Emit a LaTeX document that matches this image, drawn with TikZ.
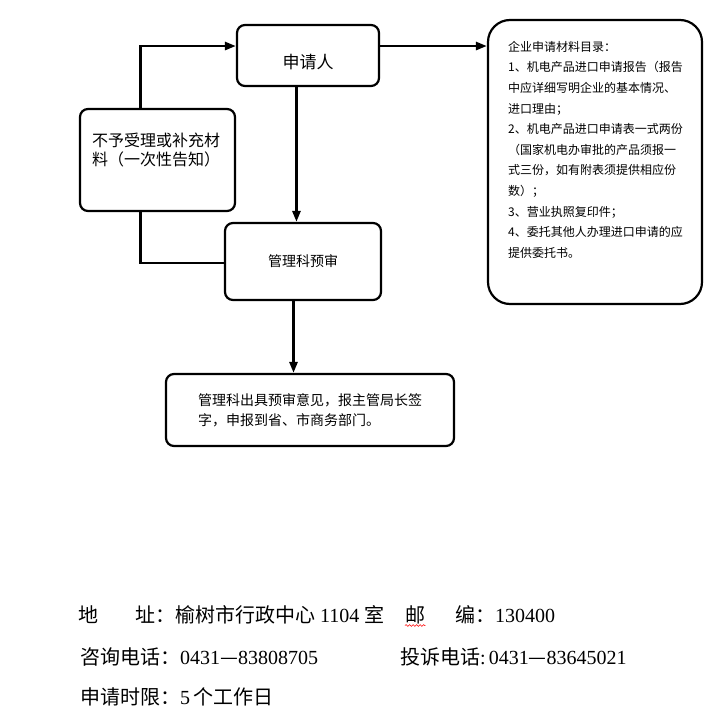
\documentclass[tikz,border=0pt]{standalone}
\usepackage{fontspec}
\setmainfont{Liberation Serif}
\newfontfamily\cjk{Noto Sans CJK SC}
\usetikzlibrary{arrows.meta,calc,positioning,decorations.pathmorphing}

\begin{document}
\begin{tikzpicture}[x=1pt, y=-1pt,
  >={Triangle[length=11pt, width=8pt]},
  every node/.style={inner sep=0pt},
  box/.style={draw, line width=2.2pt, rounded corners=8pt, fill=white},
  flow/.style={->, line width=2.6pt},
  link/.style={line width=2.6pt},
  foot/.style={anchor=base west, font=\fontsize{20}{24}\selectfont},
]
\useasboundingbox (0,0) rectangle (722,725);

% flow chart boxes
\node[box, minimum width=142pt, minimum height=61pt, text height=27pt, text depth=2pt,
      font={\cjk\fontsize{17}{20}\selectfont}] (applicant) at (308,55.5) {申请人};
\node[box, minimum width=155pt, minimum height=102pt] (reject) at (157.5,160) {};
\node[align=left, font={\cjk\fontsize{16}{19}\selectfont}] (rejecttxt) at (156,150)
      {不予受理或补充材\\料（一次性告知）};
\node[box, minimum width=156pt, minimum height=77pt,
      font={\cjk\fontsize{14}{17}\selectfont}] (review) at (303,261.5) {管理科预审};
\node[box, minimum width=288pt, minimum height=72pt, align=left,
      font={\cjk\fontsize{14}{20}\selectfont}] (opinion) at (310,410)
      {管理科出具预审意见，报主管局长签\\字，申报到省、市商务部门。};

% list of documents
\node[box, rounded corners=22pt, minimum width=214pt, minimum height=284pt] (docs) at (595,162) {};
\node[anchor=north west, align=left, font={\cjk\fontsize{12}{20.6}\selectfont}] (docstxt) at (508,41)
      {企业申请材料目录：\\1、机电产品进口申请报告（报告\\中应详细写明企业的基本情况、\\进口理由；\\%
       2、机电产品进口申请表一式两份\\（国家机电办审批的产品须报一\\式三份，如有附表须提供相应份\\数）；\\%
       3、营业执照复印件；\\4、委托其他人办理进口申请的应\\提供委托书。};

% connectors
\coordinate (a1) at ($(applicant.north west)!0.35!(applicant.south west)$);
\draw[flow] ($(reject.north west)!0.39!(reject.north east)$) |- (a1);
\coordinate (a2) at ($(applicant.north east)!0.35!(applicant.south east)$);
\draw[flow] (a2) -- (a2 -| docs.west);
\coordinate (a3) at ($(applicant.south west)!0.42!(applicant.south east)$);
\draw[flow] (a3) -- (a3 |- review.north);
\coordinate (r1) at ($(review.north west)!0.52!(review.south west)$);
\draw[link] ($(reject.south west)!0.39!(reject.south east)$) |- (r1);
\coordinate (r2) at ($(review.south west)!0.44!(review.south east)$);
\draw[flow] (r2) -- (r2 |- opinion.north);

% contact lines
\node[foot] (addrkey) at (78,622.5) {\cjk 地};
\node[foot] (addrval) at (135,622.5) {{\cjk 址：榆树市行政中心} 1104 {\cjk 室}};
\node[foot] (postkey) at (405,622.5) {\cjk 邮};
\node[foot] (postval) at (455,622.5) {{\cjk 编：}130400};
\draw[red, line width=0.6pt, decorate, decoration={snake, amplitude=0.9pt, segment length=3.5pt}]
     ($(postkey.base west)+(0,3)$) -- ($(postkey.base east)+(0,3)$);
\node[foot] (askkey) at (80,664.5) {{\cjk 咨询电话：}0431{\cjk —}83808705};
\node[foot] (plaint) at (400,664.5) {{\cjk 投诉电话}:\kern3pt 0431{\cjk —}83645021};
\node[foot] (limit) at (80,704.5) {{\cjk 申请时限：}5\kern3pt{\cjk 个工作日}};
\end{tikzpicture}
\end{document}
